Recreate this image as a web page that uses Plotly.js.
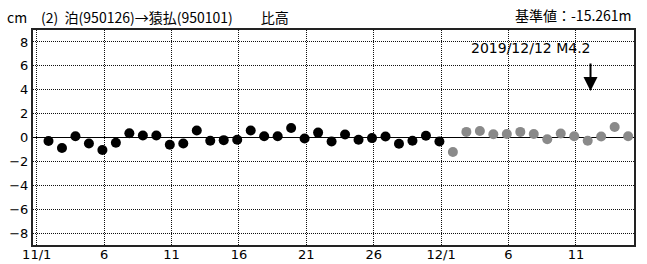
<!DOCTYPE html>
<html><head><meta charset="utf-8">
<script src="https://cdn.plot.ly/plotly-3.0.1.min.js"></script>
<style>html,body{margin:0;padding:0;background:#fff}</style>
</head><body><div id="chart" style="width:647px;height:264px"></div>
<script>
// Data (cm), daily solutions
const novDays = [1,2,3,4,5,6,7,8,9,10,11,12,13,14,15,16,17,18,19,20,21,22,23,24,25,26,27,28,29,30];
const novValues = [-0.3,-0.88,0.1,-0.5,-1.05,-0.44,0.36,0.17,0.17,-0.6,-0.5,0.58,-0.27,-0.22,-0.19,0.58,0.1,0.1,0.8,-0.08,0.41,-0.33,0.25,-0.19,-0.05,0.08,-0.52,-0.27,0.14,-0.33];
const decDays = [1,2,3,4,5,6,7,8,9,10,11,12,13,14];
const decValues = [-1.21,0.47,0.55,0.27,0.3,0.47,0.3,-0.14,0.33,0.1,-0.27,0.08,0.88,0.1];
const tickDates = ['2019-11-01','2019-11-06','2019-11-11','2019-11-16','2019-11-21','2019-11-26','2019-12-01','2019-12-06','2019-12-11'];
const tickLabels = ['11/1','6','11','16','21','26','12/1','6','11'];
const yTicks = [-8,-6,-4,-2,0,2,4,6,8];
const titleText = 'cm\u3000(2)  泊(950126)→猿払(950101)\u3000\u3000比高';
const refText = '基準値：-15.261m';
const quakeTime = '2019-12-12 02:00';
const quakeText = '2019/12/12 M4.2';

const pad = n => String(n).padStart(2,'0');
const toDate = (m, d) => `2019-${m}-${pad(d)} 21:00`;

const font = 'Noto Sans CJK JP, sans-serif';
const numFont = 'DejaVu Sans, sans-serif';
const traces = [
  {x: novDays.map(d => toDate('11', d)), y: novValues, mode: 'markers', type: 'scatter',
   marker: {color: '#000', size: 10}, cliponaxis: true, hoverinfo: 'skip'},
  {x: decDays.map(d => toDate('12', d)), y: decValues, mode: 'markers', type: 'scatter',
   marker: {color: '#8a8a8a', size: 10}, cliponaxis: true, hoverinfo: 'skip'}
];
const layout = {
  width: 647, height: 264,
  margin: {l: 33, r: 13, t: 30, b: 19},
  paper_bgcolor: '#fff', plot_bgcolor: '#fff',
  showlegend: false,
  font: {family: font, size: 12, color: '#000'},
  title: {text: titleText, xref: 'container', yref: 'container', x: 7/647, y: 1 - 18/264,
          xanchor: 'left', yanchor: 'middle', font: {family: font, size: 14, color: '#000'}},
  xaxis: {type: 'date', range: ['2019-10-31 17:25', '2019-12-15 07:26'],
          tickmode: 'array', tickvals: tickDates, ticktext: tickLabels,
          showgrid: true, gridcolor: '#111', griddash: '1px,1px', gridwidth: 1,
          showline: true, linecolor: '#222', linewidth: 2, mirror: true,
          ticks: '', zeroline: false, fixedrange: true, ticklabelstandoff: -4,
          tickfont: {family: numFont, size: 13, color: '#000'}},
  yaxis: {range: [-9, 9], tickmode: 'array', tickvals: yTicks,
          showgrid: true, gridcolor: '#111', griddash: '1px,1px', gridwidth: 1,
          zeroline: true, zerolinecolor: '#000', zerolinewidth: 1.5,
          showline: true, linecolor: '#222', linewidth: 2, mirror: true,
          ticks: '', fixedrange: true,
          tickfont: {family: numFont, size: 13, color: '#000'}},
  annotations: [
    {xref: 'paper', yref: 'paper', x: 1, y: 1 + 15/215, xanchor: 'right', yanchor: 'middle',
     showarrow: false, text: refText, font: {family: font, size: 14, color: '#000'}},
    {x: quakeTime, y: 3.9, xref: 'x', yref: 'y', showarrow: true, ax: 0, ay: -29,
     arrowhead: 2, arrowsize: 1.4, arrowwidth: 2, arrowcolor: '#000', text: ''},
    {x: quakeTime, y: 7.5, xref: 'x', yref: 'y', showarrow: false, xanchor: 'right', yanchor: 'middle',
     xshift: 2, text: quakeText, font: {family: numFont, size: 14, color: '#000'}}
  ]
};
Plotly.newPlot('chart', traces, layout, {staticPlot: true, displayModeBar: false});
</script></body></html>
